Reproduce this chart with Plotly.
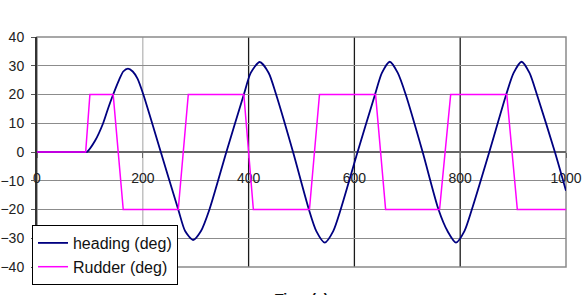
import plotly.graph_objects as go

# ---- data ----
time_heading = [0, 85, 94, 110, 125, 135, 144, 155, 163, 172, 181, 190, 201, 234, 267, 280, 295,
                310, 326, 358, 391, 404, 421, 438, 452, 484, 514, 528, 544, 560, 574, 606,
                639, 652, 667, 682, 697, 729, 759, 776, 792, 808, 822, 855, 887, 901, 916,
                931, 945, 979, 1000]
heading_deg = [0, 0, 0, 4, 10, 15.5, 20, 25, 28, 29, 28, 25.5, 20, 0, -20, -27.5, -30.6,
               -27.5, -20, 0, 20, 27.5, 31.3, 27.5, 20, 0, -20, -27.5, -31.5, -27.5, -20, 0,
               20, 27.5, 31.4, 27.5, 20, 0, -20, -27.5, -31.5, -27.5, -20, 0, 20, 27.5, 31.4,
               27.5, 20, 0, -13.5]

time_rudder = [0, 92, 100, 144, 163, 267, 286, 391, 409, 515, 534, 640, 659, 761, 782, 888, 908, 1000]
rudder_deg = [0, 0, 20, 20, -20, -20, 20, 20, -20, -20, 20, 20, -20, -20, 20, 20, -20, -20]

x_ticks = [0, 200, 400, 600, 800, 1000]
y_ticks = [-40, -30, -20, -10, 0, 10, 20, 30, 40]
x_grid = [200, 400, 600, 800]
x_grid_colors = ["#b8b8b8", "#1a1a1a", "#1a1a1a", "#1a1a1a"]

FONT = "Liberation Sans, Arial, sans-serif"

fig = go.Figure()
fig.add_trace(go.Scatter(
    x=time_heading, y=heading_deg, mode="lines", name="heading (deg)",
    legendgroup="h",
    line=dict(color="#000080", width=1.8, shape="spline", smoothing=0.7)))
fig.add_trace(go.Scatter(
    x=time_rudder, y=rudder_deg, mode="lines", name="Rudder (deg)",
    legendgroup="r",
    line=dict(color="#FF00FF", width=1.5)))

shapes = []
for xv, col in zip(x_grid, x_grid_colors):
    shapes.append(dict(type="line", xref="x", yref="paper", x0=xv, x1=xv, y0=0, y1=1,
                       line=dict(color=col, width=1.3), layer="below"))
# plot-area border
shapes.append(dict(type="rect", xref="paper", yref="paper", x0=0, x1=1, y0=0, y1=1,
                   line=dict(color="#8a8a8a", width=1.5), layer="below"))

fig.update_layout(
    width=587, height=295,
    margin=dict(l=37, r=21, t=37, b=28, autoexpand=False),
    paper_bgcolor="white", plot_bgcolor="rgba(0,0,0,0)",
    font=dict(family=FONT, size=14, color="#222222"),
    showlegend=True,
    legend=dict(x=-0.0095, y=0.1826, xanchor="left", yanchor="top",
                bgcolor="white", bordercolor="black", borderwidth=1,
                font=dict(family=FONT, size=16, color="#111111"),
                tracegroupgap=3, traceorder="normal"),
    shapes=shapes,
    annotations=[dict(text="<b>Time (s)</b>", x=0.5, y=-0.095, xref="paper", yref="paper",
                      xanchor="center", yanchor="top", showarrow=False,
                      font=dict(family=FONT, size=14, color="#111111"))],
)
fig.update_xaxes(range=[0, 1000], tickvals=x_ticks, anchor="free", position=0.5,
                 showline=True, linecolor="#666666", linewidth=2, layer="below traces",
                 ticks="outside", ticklen=5, tickcolor="#666666", tickwidth=1,
                 showgrid=False, zeroline=False, ticklabelstandoff=8, automargin=False,
                 tickfont=dict(family=FONT, size=14, color="#222222"))
fig.update_yaxes(range=[-40, 40], tickvals=y_ticks, showgrid=True, gridcolor="#8c8c8c",
                 gridwidth=1, zeroline=False, showline=True, linecolor="#333333",
                 linewidth=2, ticks="outside", ticklen=4, tickcolor="#555555",
                 ticklabelstandoff=4, automargin=False, layer="below traces",
                 tickfont=dict(family=FONT, size=14, color="#222222"))

fig.write_html("out.html")
